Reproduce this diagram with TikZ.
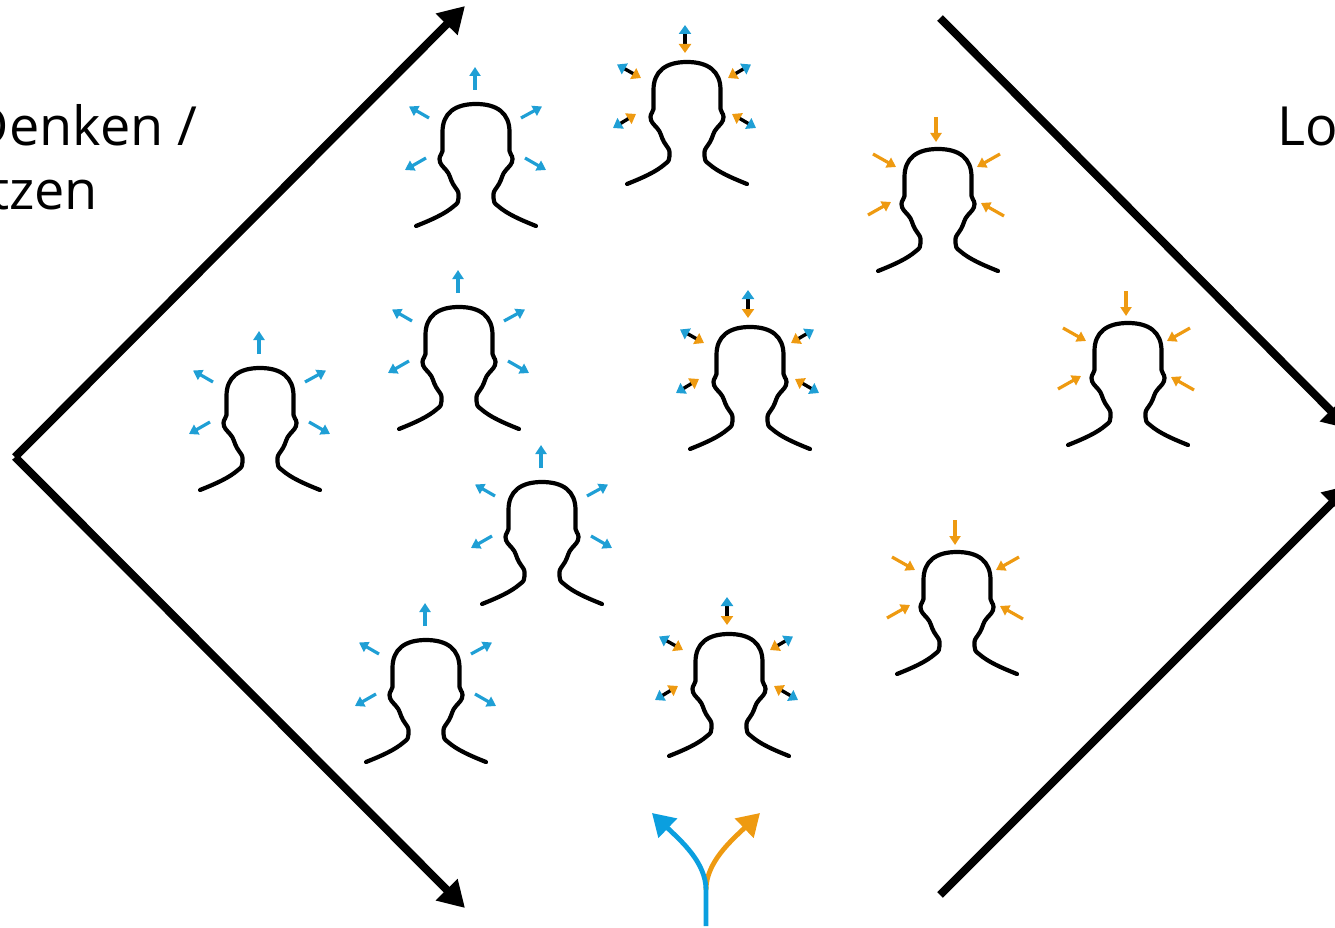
\documentclass[tikz,border=0pt]{standalone}
\usepackage{fontspec}
\setmainfont{Open Sans}
\usetikzlibrary{arrows.meta}
\definecolor{outblue}{HTML}{1F9FD5}
\definecolor{inorange}{HTML}{EE9A11}
\definecolor{forkblue}{HTML}{0B9FDF}
\tikzset{
  bigarrow/.style={line width=8pt, -{Triangle[length=26pt,width=29pt]}},
  textbig/.style={font=\fontsize{54}{63}\selectfont, inner sep=0pt},
  headline/.style={line width=4.2pt, line cap=round, line join=round},
  outarrow/.style={line width=3.2pt, outblue, -{Triangle[length=9pt,width=11pt]}},
  inarrow/.style={line width=3.2pt, inorange, -{Triangle[length=9pt,width=11pt]}},
  mixarrow/.style={line width=3.4pt, black, {Triangle[length=9pt,width=12pt,color=outblue]}-{Triangle[length=9pt,width=12pt,color=inorange]}},
  forkarrow/.style={line width=4.8pt, -{Triangle[length=22pt,width=26pt]}},
  head/.pic={
    \draw[headline] (-60,122) .. controls (-45,116) and (-31,110) .. (-22,102) .. controls (-18,99.5) and (-17.5,97) .. (-17.5,94) -- (-17.5,90) .. controls (-17.5,87) and (-20,85) .. (-23,80) .. controls (-26,75) and (-26,70) .. (-30,66) .. controls (-33,62.5) and (-36.5,60) .. (-36.5,55) .. controls (-36.5,51) and (-33.5,50) .. (-33.5,47) -- (-33.5,28) .. controls (-33.5,9) and (-21,0) .. (0,0) .. controls (21,0) and (33.5,9) .. (33.5,28) -- (33.5,47) .. controls (33.5,50) and (36.5,51) .. (36.5,55) .. controls (36.5,60) and (33,62.5) .. (30,66) .. controls (26,70) and (26,75) .. (23,80) .. controls (20,85) and (17.5,87) .. (17.5,90) -- (17.5,94) .. controls (17.5,97) and (18,99.5) .. (22,102) .. controls (31,110) and (45,116) .. (60,122);
  },
  headout/.pic={
    \pic {head};
    \begin{scope}[xshift=-1pt]
    \draw[outarrow] (0,-14) -- (0,-37);
    \draw[outarrow] (46,14) -- (67,2.5);
    \draw[outarrow] (-46,14) -- (-66,2.5);
    \draw[outarrow] (-49,54) -- (-70,66);
    \draw[outarrow] (50,54) -- (71,66);
    \end{scope}
  },
  headmix/.pic={
    \pic {head};
    \begin{scope}[xshift=-2pt]
    \draw[mixarrow] (0,-37) -- (0,-9);
    \draw[mixarrow] (-68,2.5) -- (-44,16);
    \draw[mixarrow] (66,2.5) -- (43,16);
    \draw[mixarrow] (-72,66) -- (-49,52);
    \draw[mixarrow] (71,66) -- (47,52);
    \end{scope}
  },
  headin/.pic={
    \pic {head};
    \begin{scope}[xshift=-2pt]
    \draw[inarrow] (0,-32) -- (0,-7);
    \draw[inarrow] (-63,5) -- (-40,18);
    \draw[inarrow] (64,5) -- (41,18);
    \draw[inarrow] (-68,66) -- (-45,53);
    \draw[inarrow] (68,67) -- (45,54);
    \end{scope}
  },
}
\begin{document}
\begin{tikzpicture}[x=1pt,y=-1pt]
\useasboundingbox (0,0) rectangle (1335,928);
\node[textbig, anchor=base east] (denken) at (197.5,146) {Denken /};
\node[textbig, anchor=base east] (tzen) at (98,209.5) {tzen};
\node[textbig, anchor=base west] (lo) at (1277,146) {Lo};
\coordinate (apex) at (15,457);
\coordinate (topmid) at (465,6);
\coordinate (botmid) at (465,908);
\coordinate (righttop) at (940,18);
\coordinate (rightbot) at (940,895);
\coordinate (tipa) at (1349,429);
\coordinate (tipb) at (1350,485);
\draw[bigarrow] (apex) -- (topmid);
\draw[bigarrow] (apex) -- (botmid);
\draw[bigarrow] (righttop) -- (tipa);
\draw[bigarrow] (rightbot) -- (tipb);
\pic (b1) at (476,104) {headout};
\pic (b2) at (459,307) {headout};
\pic (b3) at (260,368) {headout};
\pic (b4) at (542,482) {headout};
\pic (b5) at (426,640) {headout};
\pic (m1) at (687,62) {headmix};
\pic (m2) at (750,327) {headmix};
\pic (m3) at (729,634) {headmix};
\pic (o1) at (938,149) {headin};
\pic (o2) at (1128,323) {headin};
\pic (o3) at (957,552) {headin};
\coordinate (forkbase) at (706,926);
\coordinate (fork) at (706,890);
\coordinate (forkleft) at (652,813);
\coordinate (forkright) at (760,813);
\draw[forkarrow, inorange] (fork) .. controls (706,862) and (732,840) .. (forkright);
\draw[forkarrow, forkblue] (forkbase) -- (fork) .. controls (706,862) and (680,840) .. (forkleft);
\end{tikzpicture}
\end{document}
